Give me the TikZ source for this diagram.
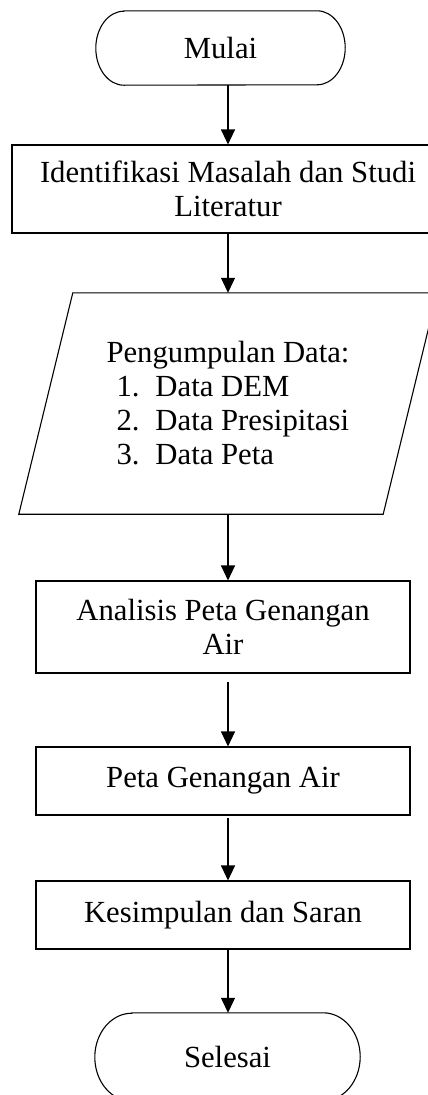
\documentclass[tikz,border=0pt]{standalone}
\usepackage{fontspec}
\setmainfont{Liberation Serif}
\usetikzlibrary{arrows.meta}
\begin{document}
\begin{tikzpicture}[x=1pt,y=1pt,
  every node/.style={font=\fontsize{30.7}{34}\selectfont, inner sep=0pt},
  outline/.style={line width=1.1pt},
  box/.style={outline, draw, align=center, minimum width=374pt, minimum height=68pt},
  plain/.style={align=center},
  arr/.style={-{Triangle[length=15pt,width=14pt]}, line width=1.1pt}]
\clip (0,0) rectangle (428,-1095);

% terminators (outlines drawn below)
\node[plain, minimum width=249pt, minimum height=74pt] (mulai) at (220.5,-48) {Mulai};
\node[plain, minimum width=265pt, minimum height=88pt] (selesai) at (227.5,-1057) {Selesai};

% process boxes
\node[box, minimum width=432pt, minimum height=88pt] (ident) at (228,-189)
  {Identifikasi Masalah dan Studi\\Literatur};
\node[box, minimum height=92pt] (analisis) at (223,-627) {Analisis Peta Genangan\\Air};
\node[box] (peta) at (223,-781) {Peta Genangan Air};
\node[box] (simpul) at (223,-915) {Kesimpulan dan Saran};

% data input (parallelogram drawn below)
\node[align=left, minimum width=364pt, minimum height=221pt] (data) at (228,-403.5)
  {Pengumpulan Data:\\
   \hspace*{10pt}\makebox[39pt][l]{1.}Data DEM\\
   \hspace*{10pt}\makebox[39pt][l]{2.}Data Presipitasi\\
   \hspace*{10pt}\makebox[39pt][l]{3.}Data Peta};

% terminator outlines with elliptical ends
\draw[outline] ([xshift=28pt]mulai.north west) -- ([xshift=-28pt]mulai.north east)
  arc[start angle=90, end angle=-90, x radius=28pt, y radius=37pt]
  -- ([xshift=28pt]mulai.south west)
  arc[start angle=270, end angle=90, x radius=28pt, y radius=37pt] -- cycle;
\draw[outline] ([xshift=37pt]selesai.north west) -- ([xshift=-37pt]selesai.north east)
  arc[start angle=90, end angle=-90, x radius=37pt, y radius=44pt]
  -- ([xshift=37pt]selesai.south west)
  arc[start angle=270, end angle=90, x radius=37pt, y radius=44pt] -- cycle;

% parallelogram outline
\draw[outline] ([xshift=27pt]data.north west) -- ([xshift=27pt]data.north east)
  -- ([xshift=-27pt]data.south east) -- ([xshift=-27pt]data.south west) -- cycle;

% connectors
\draw[arr] (mulai.south -| ident.north) -- (ident.north);
\draw[arr] (ident.south) -- (data.north);
\draw[arr] (data.south) -- (data.south |- analisis.north);
\draw[arr, shorten <=8pt] (analisis.south -| data.south) -- (peta.north -| data.south);
\draw[arr, shorten <=2pt] (peta.south -| data.south) -- (simpul.north -| data.south);
\draw[arr, shorten <=-2pt] (simpul.south -| data.south) -- (selesai.north -| data.south);
\end{tikzpicture}
\end{document}
